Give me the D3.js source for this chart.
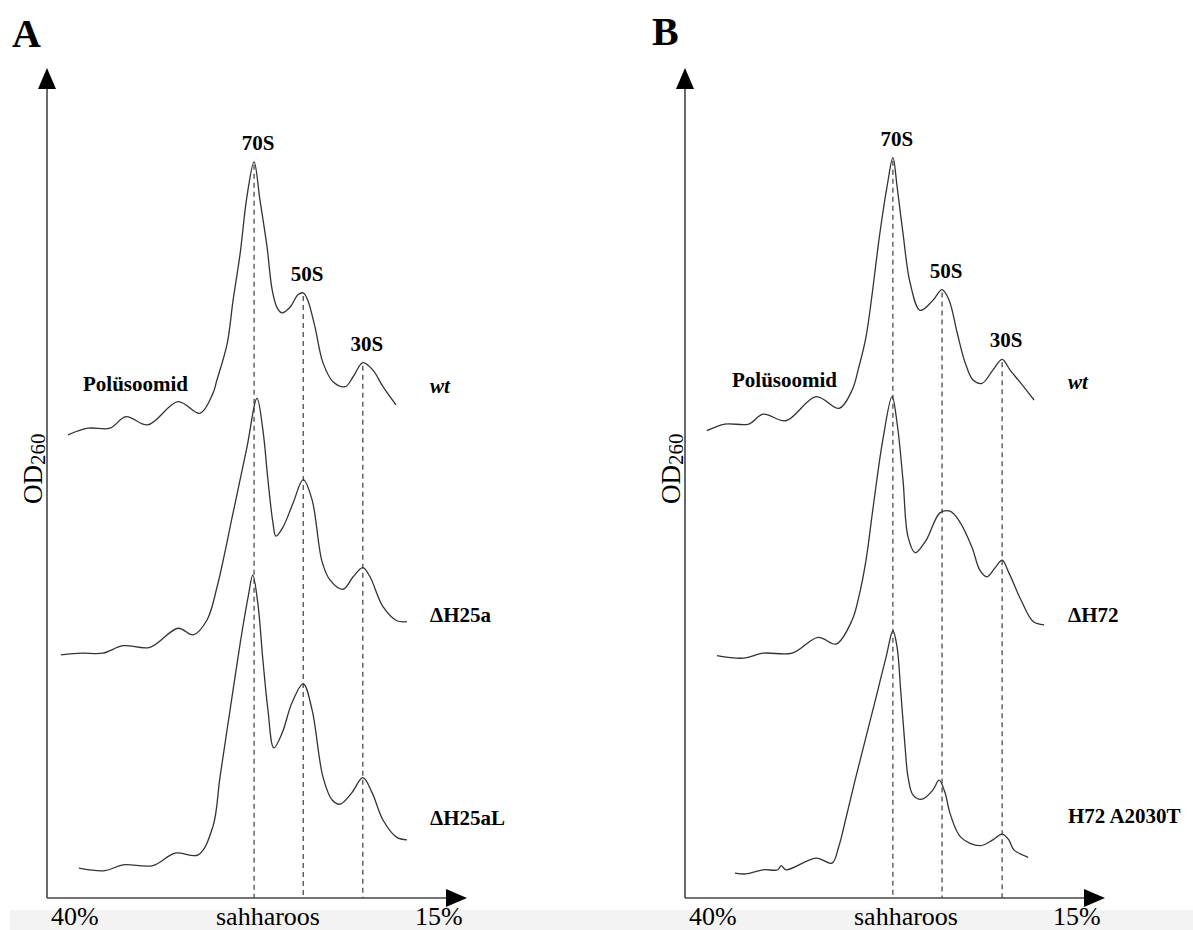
<!DOCTYPE html>
<html>
<head>
<meta charset="utf-8">
<script src="https://cdn.jsdelivr.net/npm/d3@7"></script>
<style>
  body { margin: 0; background: #fff; }
  svg { display: block; }
  text { font-family: "Liberation Serif", "Times New Roman", "DejaVu Serif", serif; }
</style>
</head>
<body>
<svg></svg>
<script>
// position along the gradient (0 = 40% end, 100 = 15% end), OD260 in arbitrary units
const wtA = [[5.0,55.8],[9.8,56.6],[15.0,56.6],[18.8,58.0],[24.0,57.0],[31.2,59.8],[36.4,58.4],
  [39.5,60.8],[40.4,62.3],[42.9,66.8],[44.3,72.0],[46.0,77.7],[47.6,84.5],[49.3,88.7],[50.7,84.1],
  [52.4,78.4],[53.6,73.3],[54.8,71.1],[56.0,70.5],[57.9,71.2],[59.8,72.7],[61.0,72.9],[62.1,72.0],
  [63.8,68.8],[65.7,64.5],[68.1,62.2],[71.0,61.6],[72.9,62.8],[75.2,64.5],[77.6,63.6],[80.0,61.6],[83.1,59.4]];
const dH25a = [[3.3,29.3],[8.3,29.5],[13.3,29.5],[18.1,30.4],[24.5,30.2],[31.2,32.5],[34.8,31.7],
  [38.1,33.5],[40.5,37.5],[44.3,46.4],[47.6,54.3],[50.0,60.2],[51.4,56.4],[52.6,50.4],[53.8,45.2],
  [54.5,43.6],[56.2,44.7],[58.6,47.6],[61.0,50.4],[63.1,48.0],[65.5,40.5],[67.4,38.3],[70.5,37.2],
  [72.9,38.7],[75.2,39.8],[76.9,38.7],[80.0,35.1],[83.3,33.4],[85.7,33.3]];
const dH25aL = [[7.6,3.6],[13.8,3.3],[18.1,4.0],[25.2,3.9],[30.5,5.4],[36.0,5.2],[39.5,8.6],
  [41.2,14.6],[43.6,22.7],[46.0,30.7],[47.9,36.3],[49.0,38.9],[50.2,35.5],[51.4,28.7],[52.6,22.7],
  [54.0,18.1],[56.0,19.9],[58.3,23.5],[61.0,25.8],[63.1,22.7],[65.7,14.6],[67.9,11.8],[69.8,11.3],
  [72.6,12.7],[75.2,14.5],[77.4,12.7],[80.0,9.4],[83.3,7.3],[85.7,7.0]];

const wtB = [[5.2,56.3],[9.5,57.1],[15.2,57.1],[18.6,58.3],[24.0,57.5],[31.2,60.4],[36.7,59.0],
  [39.8,61.2],[41.4,64.0],[43.1,67.6],[46.4,80.1],[48.1,85.7],[49.5,89.2],[50.5,85.7],[51.9,80.1],
  [53.6,74.1],[56.0,70.8],[59.0,72.0],[61.2,73.3],[62.9,72.0],[64.8,68.1],[66.7,64.5],[68.6,62.4],
  [70.7,62.0],[73.3,63.6],[75.5,64.9],[77.4,63.6],[80.0,62.0],[83.1,60.0]];
const dH72 = [[7.6,29.2],[14.0,28.9],[18.6,29.5],[25.5,29.5],[31.7,31.4],[36.0,30.6],[39.8,33.5],
  [41.4,36.3],[43.1,40.7],[44.8,47.1],[47.1,55.2],[49.3,60.4],[50.5,57.2],[51.9,50.4],[53.1,43.5],
  [54.8,41.6],[57.4,43.1],[60.7,46.4],[63.1,46.6],[65.2,45.5],[68.3,42.3],[70.2,39.5],[71.9,38.7],
  [74.0,39.9],[75.5,40.7],[77.1,39.2],[80.0,35.9],[82.9,33.3],[85.5,32.9]];
const h72A2030T = [[11.9,3.0],[14.5,2.9],[18.6,3.4],[22.1,3.4],[22.9,3.9],[24.0,3.4],[31.2,4.8],
  [35.0,4.2],[36.5,6.0],[38.5,10.0],[40.5,14.2],[43.0,19.2],[45.5,24.2],[48.0,29.3],[49.5,32.2],
  [50.5,30.2],[51.4,24.7],[52.4,18.2],[53.1,14.6],[54.3,12.4],[56.4,11.9],[59.0,13.0],[60.5,14.2],
  [61.9,12.7],[63.1,10.2],[65.7,7.3],[70.2,6.3],[73.3,7.0],[75.5,7.7],[77.1,7.0],[78.3,5.8],[81.7,4.9]];

const peakNames = ['70S', '50S', '30S'];
const peaksA = [49.3, 61.0, 75.2];
const peaksB = [49.5, 61.2, 75.5];
const tracesA = ['wt', 'ΔH25a', 'ΔH25aL'];
const tracesB = ['wt', 'ΔH72', 'H72 A2030T'];
const xTickLabels = ['40%', 'sahharoos', '15%'];

const width = 1193, height = 930;
const ink = '#2b2b2b';

const svg = d3.select('svg')
    .attr('width', width)
    .attr('height', height);

// faint grey strip under the axis labels
svg.append('rect')
    .attr('x', 10).attr('y', 910)
    .attr('width', width - 10).attr('height', 20)
    .attr('fill', '#f3f3f3');

const panels = [
  { letter: 'A', x0: 47, series: [wtA, dH25a, dH25aL], names: tracesA, peaks: peaksA,
    letterDx: -35, letterY: 47, polyDx: 36, polyY: 391, labelY: [393, 622, 825] },
  { letter: 'B', x0: 685, series: [wtB, dH72, h72A2030T], names: tracesB, peaks: peaksB,
    letterDx: -33, letterY: 45, polyDx: 47, polyY: 387, labelY: [389, 622, 823] }
];

panels.forEach(p => {
  const x = d3.scaleLinear().domain([0, 100]).range([p.x0, p.x0 + 420]);
  const y = d3.scaleLinear().domain([0, 100]).range([898, 68]);
  const g = svg.append('g');

  // dashed guides from the wt peaks down to the axis
  p.peaks.forEach((pk, i) => {
    const top = d3.least(p.series[0], d => Math.abs(d[0] - pk));
    g.append('line')
        .attr('x1', x(pk)).attr('x2', x(pk))
        .attr('y1', y(top[1]) + 3).attr('y2', y(0))
        .attr('stroke', ink).attr('stroke-width', 1.1)
        .attr('stroke-dasharray', '5,4');
    g.append('text')
        .attr('x', x(pk) + 4).attr('y', y(top[1]) - 12)
        .attr('text-anchor', 'middle')
        .attr('font-size', 21).attr('font-weight', 'bold')
        .text(peakNames[i]);
  });

  const line = d3.line()
      .x(d => x(d[0]))
      .y(d => y(d[1]))
      .curve(d3.curveCatmullRom.alpha(0.5));

  g.selectAll('path.trace').data(p.series)
    .enter().append('path')
      .attr('class', 'trace')
      .attr('d', line)
      .attr('fill', 'none')
      .attr('stroke', '#333')
      .attr('stroke-width', 1.3);

  g.selectAll('text.name').data(p.names)
    .enter().append('text')
      .attr('class', 'name')
      .attr('x', p.x0 + 383)
      .attr('y', (d, i) => p.labelY[i])
      .attr('font-size', 21)
      .attr('font-weight', 'bold')
      .attr('font-style', d => d === 'wt' ? 'italic' : 'normal')
      .text(d => d);

  g.append('text')
      .attr('x', p.x0 + p.polyDx).attr('y', p.polyY)
      .attr('font-size', 21).attr('font-weight', 'bold')
      .text('Polüsoomid');

  // axes with arrow heads
  g.append('line')
      .attr('x1', x(0)).attr('x2', x(0))
      .attr('y1', y(0)).attr('y2', y(100) + 10)
      .attr('stroke', '#444').attr('stroke-width', 1.6);
  g.append('line')
      .attr('x1', x(0)).attr('x2', x(100) - 10)
      .attr('y1', y(0)).attr('y2', y(0))
      .attr('stroke', '#444').attr('stroke-width', 1.6);
  g.append('path')
      .attr('d', `M${x(0)},${y(100)}L${x(0) - 9},${y(100) + 21}L${x(0) + 9},${y(100) + 21}Z`)
      .attr('fill', '#000');
  g.append('path')
      .attr('d', `M${x(100)},${y(0)}L${x(100) - 21},${y(0) - 9}L${x(100) - 21},${y(0) + 9}Z`)
      .attr('fill', '#000');

  const tickDx = [4, 221, 368];
  const anchors = ['start', 'middle', 'start'];
  g.selectAll('text.tick').data(xTickLabels)
    .enter().append('text')
      .attr('class', 'tick')
      .attr('x', (d, i) => p.x0 + tickDx[i])
      .attr('y', 925)
      .attr('text-anchor', (d, i) => anchors[i])
      .attr('font-size', 26)
      .text(d => d);

  const od = g.append('text')
      .attr('transform', `translate(${p.x0 - 5},504) rotate(-90)`)
      .attr('font-size', 27);
  od.append('tspan').text('OD');
  od.append('tspan').attr('font-size', 21).attr('dy', 3).text('260');

  g.append('text')
      .attr('x', p.x0 + p.letterDx).attr('y', p.letterY)
      .attr('font-size', 40).attr('font-weight', 'bold')
      .text(p.letter);
});
</script>
</body>
</html>
